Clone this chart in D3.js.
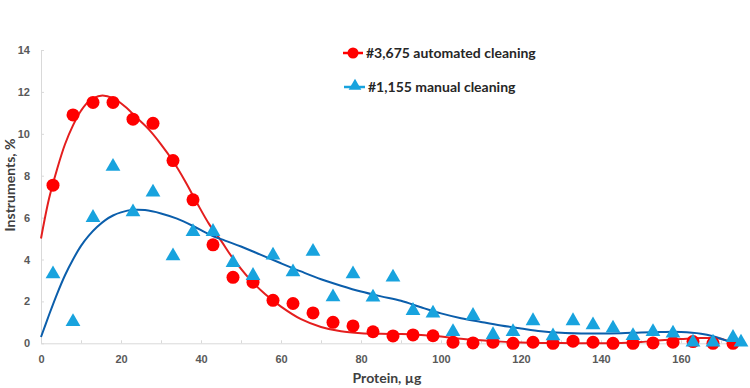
<!DOCTYPE html>
<html>
<head>
<meta charset="utf-8">
<script src="https://cdn.jsdelivr.net/npm/d3@7"></script>
<style>
  body { margin: 0; background: #fff; }
  svg { display: block; font-family: Lato, "Open Sans", sans-serif; }
  .axis .tick text { fill: #595959; font-size: 11px; font-weight: 700; }
  .axis .domain, .axis .tick line { stroke: #d9d9d9; }
  .axis-title { fill: #404040; font-size: 14px; font-weight: 700; }
  .legend-label { fill: #262626; font-size: 14px; font-weight: 700; }
</style>
</head>
<body>
<div id="chart"></div>
<script>
// protein bins (µg) shared by both series
const proteinBins = [3, 8, 13, 18, 23, 28, 33, 38, 43, 48, 53, 58, 63, 68, 73, 78, 83, 88,
  93, 98, 103, 108, 113, 118, 123, 128, 133, 138, 143, 148, 153, 158, 163, 168, 173];

// #3,675 automated cleaning, % of instruments
const automatedValues = [7.55, 10.9, 11.5, 11.5, 10.7, 10.5, 8.72, 6.85, 4.7, 3.15, 2.92, 2.05,
  1.9, 1.45, 1.0, 0.83, 0.55, 0.35, 0.4, 0.36, 0.05, 0.02, 0.05, 0.0, 0.05, 0.0, 0.1, 0.05,
  0.0, 0.0, 0.02, 0.05, 0.08, 0.0, 0.0];

// #1,155 manual cleaning has one extra bin at the end
const manualBins = proteinBins.concat([175]);
const manualValues = [3.31, 1.03, 6.0, 8.44, 6.27, 7.21, 4.17, 5.32, 5.33, 3.85, 3.23, 4.2,
  3.4, 4.38, 2.21, 3.31, 2.2, 3.15, 1.56, 1.43, 0.55, 1.32, 0.4, 0.55, 1.07, 0.35, 1.07, 0.87,
  0.72, 0.36, 0.55, 0.48, 0.05, 0.05, 0.27, 0.05];

// trendlines
const automatedTrendX = [0, 2, 4, 6, 8, 10, 12, 15, 18, 21, 24, 27, 30, 33, 36, 39, 42, 45, 48,
  52, 56, 60, 65, 70, 75, 80, 85, 90, 95, 100, 105, 110, 115, 120, 125, 130, 135, 140, 145,
  150, 155, 160, 165, 170, 173];
const automatedTrendY = [5.0, 6.9, 8.3, 9.5, 10.4, 11.1, 11.55, 11.82, 11.7, 11.3, 10.75, 10.2,
  9.5, 8.7, 7.75, 6.7, 5.7, 4.9, 4.05, 3.1, 2.35, 1.75, 1.15, 0.78, 0.57, 0.48, 0.45, 0.44,
  0.4, 0.32, 0.22, 0.14, 0.08, 0.04, 0.02, 0.01, 0.0, 0.0, 0.02, 0.06, 0.14, 0.2, 0.25, 0.22, 0.0];

const manualTrendX = [0, 2, 4, 6, 8, 10, 12, 14, 16, 18, 20, 23, 26, 30, 34, 38, 42, 46, 50,
  55, 60, 65, 70, 75, 80, 85, 90, 95, 100, 105, 110, 115, 120, 125, 130, 135, 140, 145, 150,
  155, 160, 165, 168, 171, 173];
const manualTrendY = [0.3, 1.35, 2.35, 3.25, 4.0, 4.65, 5.15, 5.55, 5.87, 6.1, 6.25, 6.37, 6.36,
  6.2, 5.95, 5.6, 5.2, 4.9, 4.62, 4.22, 3.82, 3.43, 3.06, 2.75, 2.47, 2.24, 2.03, 1.72, 1.43,
  1.2, 1.02, 0.85, 0.71, 0.58, 0.5, 0.47, 0.47, 0.48, 0.52, 0.54, 0.54, 0.46, 0.34, 0.15, 0.02];

const xTicks = [0, 10, 20, 30, 40, 50, 60, 70, 80, 90, 100, 110, 120, 130, 140, 150, 160, 170];
const yTicks = [0, 2, 4, 6, 8, 10, 12, 14];

const width = 750, height = 388;
const redMarker = "#ff0000", redLine = "#e41e1e";
const blueMarker = "#18a3de", blueLine = "#0b5eab";

const svg = d3.select("#chart").append("svg")
  .attr("width", width)
  .attr("height", height);

const x = d3.scaleLinear().domain([0, 176]).range([41, 745]);
const y = d3.scaleLinear().domain([0, 14]).range([343.3, 50]);

svg.append("g")
  .attr("class", "axis")
  .attr("transform", `translate(0,${y(0)})`)
  .call(d3.axisBottom(x).tickValues(xTicks).tickSizeInner(-3).tickSizeOuter(0).tickPadding(12)
    .tickFormat(d => d % 20 === 0 ? d : ""));

svg.append("g")
  .attr("class", "axis")
  .attr("transform", `translate(${x(0)},0)`)
  .call(d3.axisLeft(y).tickValues(yTicks).tickSizeInner(-3).tickSizeOuter(0).tickPadding(11));

svg.append("text")
  .attr("class", "axis-title")
  .attr("text-anchor", "middle")
  .attr("transform", "translate(15,185) rotate(-90)")
  .text("Instruments, %");

svg.append("text")
  .attr("class", "axis-title")
  .attr("text-anchor", "middle")
  .attr("x", 387)
  .attr("y", 383)
  .text("Protein, µg");

const line = d3.line()
  .x(d => x(d[0]))
  .y(d => y(d[1]))
  .curve(d3.curveCatmullRom.alpha(0.5));

svg.append("path")
  .datum(d3.zip(automatedTrendX, automatedTrendY))
  .attr("d", line)
  .attr("fill", "none")
  .attr("stroke", redLine)
  .attr("stroke-width", 2);

svg.append("path")
  .datum(d3.zip(manualTrendX, manualTrendY))
  .attr("d", line)
  .attr("fill", "none")
  .attr("stroke", blueLine)
  .attr("stroke-width", 2);

svg.append("g")
  .selectAll("circle")
  .data(d3.zip(proteinBins, automatedValues))
  .join("circle")
  .attr("cx", d => x(d[0]))
  .attr("cy", d => y(d[1]))
  .attr("r", 6.5)
  .attr("fill", redMarker);

const triangle = d3.symbol().type(d3.symbolTriangle).size(95);

svg.append("g")
  .selectAll("path")
  .data(d3.zip(manualBins, manualValues))
  .join("path")
  .attr("transform", d => `translate(${x(d[0])},${y(d[1])})`)
  .attr("d", triangle)
  .attr("fill", blueMarker);

// legend
const legend = svg.append("g");

legend.append("line")
  .attr("x1", 343).attr("x2", 363).attr("y1", 53).attr("y2", 53)
  .attr("stroke", redMarker).attr("stroke-width", 2.5);
legend.append("circle")
  .attr("cx", 353).attr("cy", 53).attr("r", 5.5)
  .attr("fill", redMarker);
legend.append("text")
  .attr("class", "legend-label")
  .attr("x", 366).attr("y", 53).attr("dy", "0.35em")
  .text("#3,675 automated cleaning");

legend.append("line")
  .attr("x1", 344).attr("x2", 365).attr("y1", 87).attr("y2", 87)
  .attr("stroke", blueMarker).attr("stroke-width", 2.5);
legend.append("path")
  .attr("transform", "translate(355,86)")
  .attr("d", d3.symbol().type(d3.symbolTriangle).size(70))
  .attr("fill", blueMarker);
legend.append("text")
  .attr("class", "legend-label")
  .attr("x", 368).attr("y", 87).attr("dy", "0.35em")
  .text("#1,155 manual cleaning");
</script>
</body>
</html>
